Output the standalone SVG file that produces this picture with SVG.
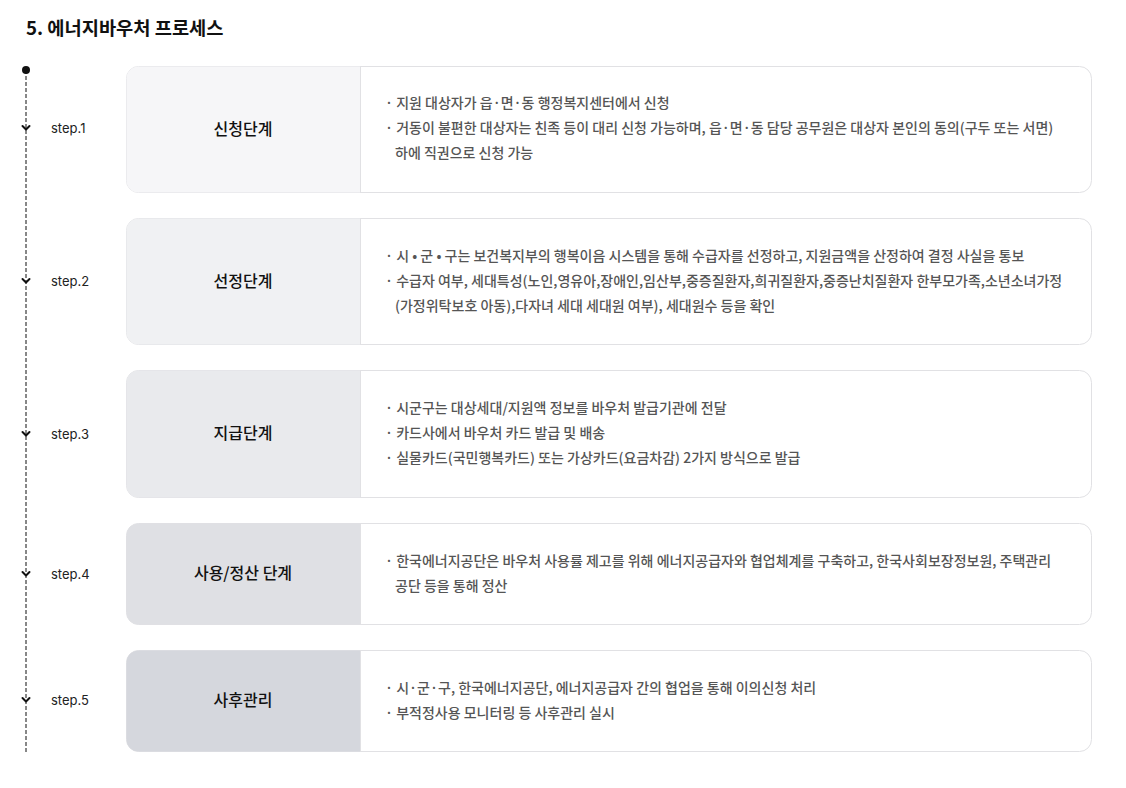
<svg xmlns="http://www.w3.org/2000/svg" width="1126" height="788" viewBox="0 0 1126 788">
<style>
.t{font-family:"Noto Sans CJK KR","Noto Sans",sans-serif}
.title{font-size:18.7px;font-weight:700;fill:#111}
.step{font-family:Inter,"Noto Sans",sans-serif;font-size:13px;fill:#222}
.head{font-size:16px;font-weight:500;fill:#111}
.body{font-size:14px;font-weight:500;fill:#555}
.card{fill:#fff;stroke:#e1e1e4;stroke-width:1}
.div{stroke:#e1e1e4;stroke-width:1}
.chev{fill:none;stroke:#111;stroke-width:2;stroke-linecap:round;stroke-linejoin:round}
</style>
<rect width="1126" height="788" fill="#fff"/>
<text class="t title" x="26" y="35">5. 에너지바우처 프로세스</text>
<g id="connectors">
<line x1="26" y1="70" x2="26" y2="752" stroke="#111" stroke-width="1" stroke-dasharray="4,2"/>
<circle cx="26" cy="70" r="4" fill="#111"/>
<path class="chev" d="M22.5,126 L26,129.5 L29.5,126"/>
<path class="chev" d="M22.5,279 L26,282.5 L29.5,279"/>
<path class="chev" d="M22.5,432 L26,435.5 L29.5,432"/>
<path class="chev" d="M22.5,572 L26,575.5 L29.5,572"/>
<path class="chev" d="M22.5,698 L26,701.5 L29.5,698"/>
</g>
<g id="step1">
<text class="step" x="51" y="133">step.1</text>
<rect class="card" x="126.5" y="66.5" width="965" height="126" rx="12"/>
<path d="M138.5,66.5 H360 V192.5 H138.5 A12,12 0 0 1 126.5,180.5 V78.5 A12,12 0 0 1 138.5,66.5 Z" fill="#f6f6f8"/>
<line class="div" x1="360.5" y1="66.5" x2="360.5" y2="192.5"/>
<text class="t head" x="243" y="135" text-anchor="middle">신청단계</text>
<text class="t body" x="385" y="108">· 지원 대상자가 읍·면·동 행정복지센터에서 신청</text>
<text class="t body" x="385" y="133">· 거동이 불편한 대상자는 친족 등이 대리 신청 가능하며, 읍·면·동 담당 공무원은 대상자 본인의 동의(구두 또는 서면)</text>
<text class="t body" x="395" y="158">하에 직권으로 신청 가능</text>
</g>
<g id="step2">
<text class="step" x="51" y="286">step.2</text>
<rect class="card" x="126.5" y="218.5" width="965" height="126" rx="12"/>
<path d="M138.5,218.5 H360 V344.5 H138.5 A12,12 0 0 1 126.5,332.5 V230.5 A12,12 0 0 1 138.5,218.5 Z" fill="#f0f1f3"/>
<line class="div" x1="360.5" y1="218.5" x2="360.5" y2="344.5"/>
<text class="t head" x="243" y="287" text-anchor="middle">선정단계</text>
<text class="t body" x="385" y="261">· 시 • 군 • 구는 보건복지부의 행복이음 시스템을 통해 수급자를 선정하고, 지원금액을 산정하여 결정 사실을 통보</text>
<text class="t body" x="385" y="286">· 수급자 여부, 세대특성(노인,영유아,장애인,임산부,중증질환자,희귀질환자,중증난치질환자 한부모가족,소년소녀가정</text>
<text class="t body" x="395" y="311">(가정위탁보호 아동),다자녀 세대 세대원 여부), 세대원수 등을 확인</text>
</g>
<g id="step3">
<text class="step" x="51" y="439">step.3</text>
<rect class="card" x="126.5" y="370.5" width="965" height="127" rx="12"/>
<path d="M138.5,370.5 H360 V497.5 H138.5 A12,12 0 0 1 126.5,485.5 V382.5 A12,12 0 0 1 138.5,370.5 Z" fill="#e9eaed"/>
<line class="div" x1="360.5" y1="370.5" x2="360.5" y2="497.5"/>
<text class="t head" x="243" y="439" text-anchor="middle">지급단계</text>
<text class="t body" x="385" y="413">· 시군구는 대상세대/지원액 정보를 바우처 발급기관에 전달</text>
<text class="t body" x="385" y="438">· 카드사에서 바우처 카드 발급 및 배송</text>
<text class="t body" x="385" y="463">· 실물카드(국민행복카드) 또는 가상카드(요금차감) 2가지 방식으로 발급</text>
</g>
<g id="step4">
<text class="step" x="51" y="579">step.4</text>
<rect class="card" x="126.5" y="523.5" width="965" height="101" rx="12"/>
<path d="M138.5,523.5 H360 V624.5 H138.5 A12,12 0 0 1 126.5,612.5 V535.5 A12,12 0 0 1 138.5,523.5 Z" fill="#dfe0e4"/>
<line class="div" x1="360.5" y1="523.5" x2="360.5" y2="624.5"/>
<text class="t head" x="243" y="579" text-anchor="middle">사용/정산 단계</text>
<text class="t body" x="385" y="566">· 한국에너지공단은 바우처 사용률 제고를 위해 에너지공급자와 협업체계를 구축하고, 한국사회보장정보원, 주택관리</text>
<text class="t body" x="395" y="591">공단 등을 통해 정산</text>
</g>
<g id="step5">
<text class="step" x="51" y="705">step.5</text>
<rect class="card" x="126.5" y="650.5" width="965" height="101" rx="12"/>
<path d="M138.5,650.5 H360 V751.5 H138.5 A12,12 0 0 1 126.5,739.5 V662.5 A12,12 0 0 1 138.5,650.5 Z" fill="#d5d7dd"/>
<line class="div" x1="360.5" y1="650.5" x2="360.5" y2="751.5"/>
<text class="t head" x="243" y="706" text-anchor="middle">사후관리</text>
<text class="t body" x="385" y="693">· 시·군·구, 한국에너지공단, 에너지공급자 간의 협업을 통해 이의신청 처리</text>
<text class="t body" x="385" y="718">· 부적정사용 모니터링 등 사후관리 실시</text>
</g>
</svg>
